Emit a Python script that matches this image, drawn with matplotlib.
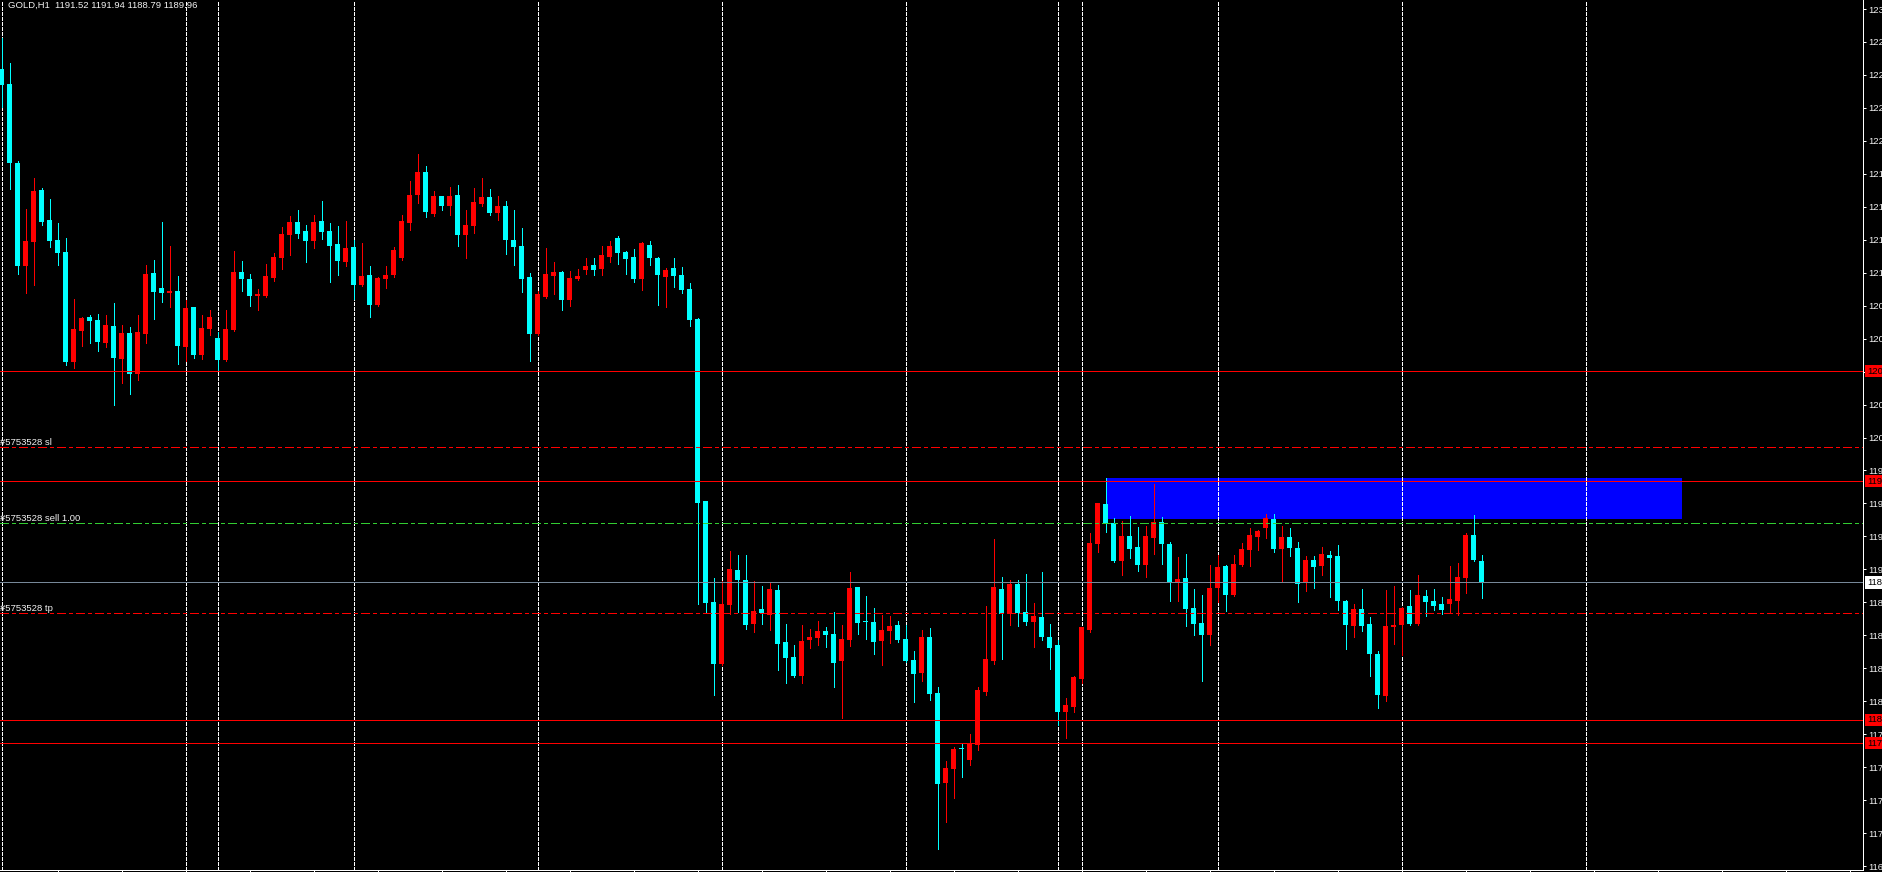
import matplotlib

matplotlib.use("Agg")
import matplotlib.patches as patches
import matplotlib.pyplot as plt
import matplotlib.transforms as mtransforms

W, H, DPI = 1882, 872, 100
PX = 72 / DPI  # one pixel in points

plt.rcParams["font.family"] = ["Liberation Sans", "DejaVu Sans"]
plt.rcParams["lines.scale_dashes"] = False

# GOLD H1, one value per bar (bar 185 is the live one)
opens = [
    1227.02, 1225.94, 1220.23, 1212.79, 1214.53, 1218.28, 1216.12, 1214.67, 1213.81, 1205.86,
    1208.10, 1209.11, 1208.90, 1207.24, 1208.46, 1206.08, 1207.96, 1205.00, 1207.89, 1212.29,
    1211.21, 1210.85, 1210.99, 1206.95, 1209.83, 1206.37, 1208.25, 1207.60, 1206.01, 1208.17,
    1212.36, 1211.86, 1210.63, 1210.63, 1211.93, 1213.37, 1215.03, 1215.97, 1215.32, 1214.60,
    1216.04, 1215.32, 1214.38, 1213.08, 1214.17, 1211.42, 1212.14, 1209.98, 1211.86, 1212.14,
    1213.37, 1215.90, 1217.92, 1219.58, 1216.55, 1217.85, 1217.13, 1217.92, 1215.03, 1215.68,
    1217.27, 1217.78, 1216.62, 1217.13, 1214.67, 1214.24, 1212.00, 1207.89, 1210.56, 1212.07,
    1212.36, 1210.34, 1211.86, 1212.51, 1212.87, 1212.58, 1213.44, 1214.82, 1213.81, 1213.44,
    1211.86, 1214.31, 1213.37, 1212.00, 1212.65, 1212.14, 1211.13, 1208.97, 1195.83, 1188.54,
    1184.06, 1188.32, 1190.85, 1190.12, 1186.95, 1188.03, 1187.60, 1189.40, 1185.65, 1184.56,
    1183.19, 1185.79, 1185.94, 1186.44, 1186.23, 1184.28, 1185.79, 1189.62, 1187.16, 1187.09,
    1185.72, 1186.44, 1186.88, 1185.86, 1184.35, 1183.41, 1186.01, 1181.97, 1175.47, 1176.48,
    1178.00, 1177.13, 1178.21, 1182.04, 1184.28, 1189.47, 1187.67, 1189.84, 1187.81, 1187.09,
    1187.45, 1186.01, 1185.43, 1180.59, 1180.95, 1182.98, 1186.51, 1192.72, 1195.61, 1194.24,
    1191.50, 1193.30, 1192.51, 1191.21, 1193.16, 1194.31, 1192.72, 1189.98, 1190.27, 1188.10,
    1187.02, 1186.15, 1189.55, 1191.13, 1189.04, 1191.21, 1192.29, 1193.23, 1193.88, 1194.53,
    1192.36, 1193.23, 1192.43, 1189.91, 1191.57, 1191.13, 1191.93, 1191.86, 1188.61, 1186.80,
    1188.03, 1186.95, 1184.78, 1181.75, 1186.73, 1186.88, 1188.25, 1186.95, 1188.97, 1188.61,
    1188.39, 1188.39, 1188.61, 1190.27, 1193.37, 1191.52,
]
highs = [
    1229.26, 1227.45, 1220.38, 1216.91, 1219.15, 1218.43, 1217.63, 1215.90, 1214.82, 1210.41,
    1209.11, 1209.26, 1209.33, 1209.26, 1210.12, 1208.53, 1208.39, 1209.26, 1212.87, 1213.23,
    1215.97, 1214.24, 1212.07, 1210.34, 1209.83, 1209.26, 1209.62, 1208.03, 1209.62, 1213.88,
    1213.16, 1212.22, 1211.13, 1212.94, 1213.73, 1215.61, 1216.40, 1216.84, 1215.76, 1216.48,
    1217.49, 1215.90, 1215.68, 1216.04, 1214.67, 1214.46, 1212.79, 1212.00, 1212.79, 1214.17,
    1216.48, 1218.93, 1220.88, 1220.01, 1218.21, 1217.85, 1218.50, 1218.64, 1216.84, 1218.43,
    1219.15, 1218.35, 1217.85, 1217.49, 1216.84, 1215.54, 1212.29, 1210.99, 1214.09, 1213.08,
    1212.43, 1212.43, 1212.58, 1213.37, 1213.37, 1214.24, 1214.60, 1214.96, 1213.88, 1214.02,
    1214.53, 1214.60, 1213.44, 1212.65, 1213.37, 1212.72, 1211.57, 1209.04, 1195.83, 1190.27,
    1190.05, 1192.22, 1191.93, 1191.93, 1190.05, 1189.69, 1189.91, 1189.76, 1186.95, 1185.43,
    1186.88, 1186.59, 1187.16, 1186.73, 1187.81, 1186.88, 1190.70, 1189.62, 1188.97, 1188.10,
    1187.60, 1187.52, 1187.16, 1186.88, 1185.00, 1186.51, 1186.66, 1182.40, 1177.06, 1178.07,
    1178.28, 1179.01, 1182.40, 1188.25, 1193.08, 1190.34, 1190.12, 1190.12, 1190.56, 1188.46,
    1190.70, 1186.95, 1185.79, 1181.60, 1183.19, 1186.73, 1193.52, 1195.68, 1197.49, 1194.60,
    1194.38, 1194.74, 1193.94, 1194.02, 1197.06, 1194.67, 1192.87, 1191.78, 1192.00, 1189.47,
    1189.04, 1191.21, 1191.93, 1191.21, 1191.93, 1192.80, 1193.88, 1193.73, 1194.89, 1194.89,
    1194.02, 1193.88, 1192.87, 1191.86, 1191.86, 1192.51, 1192.22, 1192.65, 1188.68, 1188.39,
    1189.47, 1187.45, 1185.00, 1189.40, 1189.69, 1188.17, 1189.40, 1190.49, 1189.40, 1189.47,
    1188.90, 1191.14, 1191.35, 1193.52, 1194.82, 1191.94,
]
lows = [
    1224.27, 1218.35, 1212.22, 1210.85, 1211.42, 1215.76, 1214.17, 1212.87, 1205.65, 1205.43,
    1207.02, 1207.24, 1206.66, 1206.95, 1202.76, 1204.35, 1203.55, 1204.56, 1207.24, 1208.97,
    1210.20, 1209.83, 1205.72, 1205.94, 1206.15, 1206.08, 1207.81, 1205.29, 1205.94, 1208.10,
    1210.99, 1209.91, 1209.62, 1210.56, 1211.71, 1212.58, 1213.59, 1214.82, 1213.08, 1214.09,
    1214.74, 1211.64, 1212.14, 1212.79, 1210.41, 1211.35, 1209.11, 1209.91, 1211.21, 1212.00,
    1213.23, 1215.39, 1217.34, 1216.33, 1216.40, 1216.84, 1216.48, 1214.24, 1213.37, 1215.18,
    1217.13, 1216.48, 1216.12, 1213.66, 1212.87, 1210.92, 1205.94, 1207.82, 1210.49, 1210.77,
    1209.62, 1209.91, 1211.78, 1212.22, 1212.14, 1212.14, 1213.08, 1212.94, 1212.22, 1211.64,
    1211.06, 1212.87, 1209.98, 1209.83, 1211.28, 1210.85, 1208.46, 1188.39, 1187.74, 1181.82,
    1183.99, 1187.67, 1187.81, 1186.59, 1186.37, 1186.95, 1186.51, 1183.63, 1182.69, 1183.12,
    1182.69, 1185.21, 1185.43, 1185.29, 1182.40, 1180.16, 1185.36, 1186.23, 1185.86, 1184.78,
    1183.99, 1185.58, 1185.65, 1184.20, 1181.32, 1182.83, 1181.46, 1170.70, 1172.65, 1174.38,
    1175.90, 1176.77, 1177.85, 1181.82, 1184.06, 1184.42, 1186.88, 1186.80, 1186.88, 1185.29,
    1185.79, 1183.70, 1179.66, 1178.72, 1180.59, 1182.69, 1186.37, 1192.15, 1193.59, 1191.42,
    1190.49, 1191.71, 1190.77, 1190.34, 1192.00, 1191.28, 1188.61, 1188.61, 1186.80, 1186.15,
    1182.83, 1185.43, 1188.54, 1187.89, 1188.97, 1191.14, 1191.13, 1192.29, 1193.16, 1192.15,
    1190.05, 1191.86, 1188.54, 1189.33, 1189.55, 1190.49, 1188.90, 1187.96, 1185.14, 1186.01,
    1186.44, 1183.19, 1180.88, 1181.39, 1185.50, 1184.71, 1186.90, 1186.88, 1187.52, 1187.96,
    1187.67, 1187.81, 1187.60, 1189.19, 1191.50, 1188.79,
]
closes = [
    1225.86, 1220.23, 1212.79, 1214.60, 1218.21, 1215.97, 1214.60, 1213.73, 1205.86, 1208.25,
    1209.04, 1208.82, 1207.31, 1208.53, 1206.15, 1207.96, 1205.00, 1208.03, 1212.22, 1210.92,
    1210.85, 1210.99, 1207.02, 1209.76, 1206.37, 1208.32, 1209.11, 1206.01, 1208.25, 1212.36,
    1211.86, 1210.63, 1210.77, 1212.07, 1213.44, 1215.11, 1215.97, 1215.11, 1214.60, 1215.97,
    1215.25, 1214.24, 1213.16, 1214.09, 1211.42, 1212.07, 1209.98, 1211.93, 1212.14, 1213.95,
    1216.04, 1217.92, 1219.58, 1216.69, 1217.85, 1217.13, 1217.85, 1215.03, 1215.76, 1217.42,
    1217.78, 1216.62, 1217.13, 1214.67, 1214.17, 1211.86, 1207.89, 1210.77, 1212.22, 1212.36,
    1210.34, 1211.93, 1212.07, 1212.79, 1212.51, 1213.59, 1214.24, 1213.73, 1213.30, 1211.86,
    1214.46, 1213.37, 1212.14, 1212.51, 1212.07, 1211.06, 1208.90, 1195.68, 1188.46, 1184.06,
    1188.39, 1190.92, 1190.12, 1186.88, 1187.89, 1187.74, 1189.47, 1185.50, 1184.49, 1183.19,
    1185.72, 1186.01, 1186.44, 1186.15, 1184.13, 1185.86, 1189.55, 1187.02, 1187.09, 1185.65,
    1186.51, 1186.80, 1185.79, 1184.28, 1183.34, 1186.01, 1181.89, 1175.40, 1176.55, 1177.92,
    1177.92, 1178.28, 1182.18, 1184.42, 1189.62, 1187.67, 1189.84, 1187.74, 1187.09, 1187.52,
    1186.01, 1185.21, 1180.59, 1181.10, 1183.12, 1186.73, 1192.80, 1195.68, 1194.17, 1191.50,
    1193.30, 1192.36, 1191.21, 1193.30, 1194.31, 1192.72, 1189.91, 1190.20, 1188.03, 1186.95,
    1186.15, 1189.55, 1191.06, 1189.04, 1191.28, 1192.36, 1193.37, 1193.66, 1194.60, 1192.36,
    1193.23, 1192.43, 1189.84, 1191.57, 1191.06, 1192.00, 1191.71, 1188.61, 1186.88, 1188.03,
    1186.80, 1184.78, 1181.82, 1186.80, 1186.88, 1188.10, 1186.95, 1189.04, 1188.54, 1188.25,
    1187.96, 1188.75, 1190.34, 1193.37, 1191.57, 1189.96,
]

# bar index of each day separator
day_starts = [0, 23, 27, 44, 67, 90, 113, 132, 135, 152, 175, 198]

# price scale labels on the right
price_ticks = [
    1231.35, 1228.97, 1226.59, 1224.21, 1221.83, 1219.45, 1217.07, 1214.69, 1212.31,
    1209.93, 1207.55, 1205.17, 1202.79, 1200.41, 1198.03, 1195.65, 1193.27, 1190.89,
    1188.51, 1186.13, 1183.75, 1181.37, 1178.99, 1176.61, 1174.23, 1171.85, 1169.47,
]
time_ticks = list(range(7, 233, 8))

# horizontal line objects (with red price tags)
level_prices = [1205.21, 1197.27, 1180.02, 1178.35]
order_ticket = "#5753528"
sl_price = 1199.73
entry_price = 1194.24
tp_price = 1187.74
bid_price = 1189.96

# rectangle zone
zone_bars = (138, 210)
zone_prices = (1194.53, 1197.49)

header = "GOLD,H1  1191.52 1191.94 1188.79 1189.96"

BULL = "#FF0000"
BEAR = "#00FFFF"
TXT = "#F2F2F2"
FS = 6.8


def main():
    fig = plt.figure(figsize=(W / DPI, H / DPI), dpi=DPI, facecolor="black")
    ax = fig.add_axes([0, 2.5 / H, 1863 / W, 869.5 / H])
    ax.set_facecolor("black")
    ax.set_xlim(-1.67 / 8, (1863 - 1.67) / 8)
    ax.set_ylim(1232.0 - 869.5 / 13.85, 1232.0)

    # zone
    ax.add_patch(patches.Rectangle(
        (zone_bars[0], zone_prices[0]), zone_bars[1] - zone_bars[0],
        zone_prices[1] - zone_prices[0], facecolor="#0000FF", edgecolor="none", zorder=1))

    # day separators
    for d in day_starts:
        ax.axvline(d, color="white", lw=PX, linestyle=(0, (4 * PX, 2 * PX)),
                   antialiased=False, zorder=2)

    # candles
    idx = list(range(len(opens)))
    colors = [BULL if c >= o else BEAR for o, c in zip(opens, closes)]
    bottoms = [min(o, c) for o, c in zip(opens, closes)]
    heights = [max(abs(c - o), 0.07) for o, c in zip(opens, closes)]
    ax.vlines(idx, lows, highs, colors=colors, lw=PX, antialiased=False, zorder=3)
    ax.bar(idx, heights, bottom=bottoms, width=0.625, color=colors, linewidth=0,
           antialiased=False, zorder=3)

    # lines
    dashdot = (0, (9 * PX, 3 * PX, 3 * PX, 3 * PX))
    for p in level_prices:
        ax.axhline(p, color="#FF0000", lw=PX, antialiased=False, zorder=4)
    ax.axhline(sl_price, color="#FF0000", lw=PX, linestyle=dashdot, antialiased=False, zorder=4)
    ax.axhline(tp_price, color="#FF0000", lw=PX, linestyle=dashdot, antialiased=False, zorder=4)
    ax.axhline(entry_price, color="#32CD32", lw=PX, linestyle=dashdot, antialiased=False, zorder=4)
    ax.axhline(bid_price, color="#778899", lw=PX, antialiased=False, zorder=4)

    left = mtransforms.blended_transform_factory(ax.transAxes, ax.transData)
    for p, lab in [(sl_price, "sl"), (entry_price, "sell 1.00"), (tp_price, "tp")]:
        ax.text(0.0, p, f"{order_ticket} {lab}", transform=left, ha="left", va="bottom",
                color=TXT, fontsize=FS, zorder=5)

    # price scale
    ax.yaxis.tick_right()
    ax.set_yticks(price_ticks)
    ax.set_yticklabels([f"{p:.2f}" for p in price_ticks])
    ax.tick_params(axis="y", colors="white", labelcolor=TXT, length=3 * PX, width=PX,
                   pad=2 * PX, labelsize=FS)
    ax.set_xticks(time_ticks)
    ax.set_xticklabels([])
    ax.tick_params(axis="x", colors="white", length=3 * PX, width=PX)
    for side in ("left", "top"):
        ax.spines[side].set_visible(False)
    for side in ("right", "bottom"):
        ax.spines[side].set_color("white")
        ax.spines[side].set_linewidth(PX)

    tag = mtransforms.offset_copy(left, fig=fig, x=4 * PX, y=0, units="points")
    for p in level_prices:
        ax.text(1.0, p, f"{p:.2f}", transform=tag, ha="left", va="center", fontsize=FS,
                color="black", clip_on=False, zorder=6,
                bbox=dict(boxstyle="square,pad=0.2", fc="#FF0000", ec="none"))
    ax.text(1.0, bid_price, f"{bid_price:.2f}", transform=tag, ha="left", va="center",
            fontsize=FS, color="black", clip_on=False, zorder=6,
            bbox=dict(boxstyle="square,pad=0.2", fc="white", ec="none"))

    fig.text(8 / W, 1 - 5 / H, header, ha="left", va="center", color=TXT, fontsize=FS)

    fig.savefig("out.png", dpi=DPI, facecolor="black")
    plt.close(fig)


if __name__ == "__main__":
    main()
